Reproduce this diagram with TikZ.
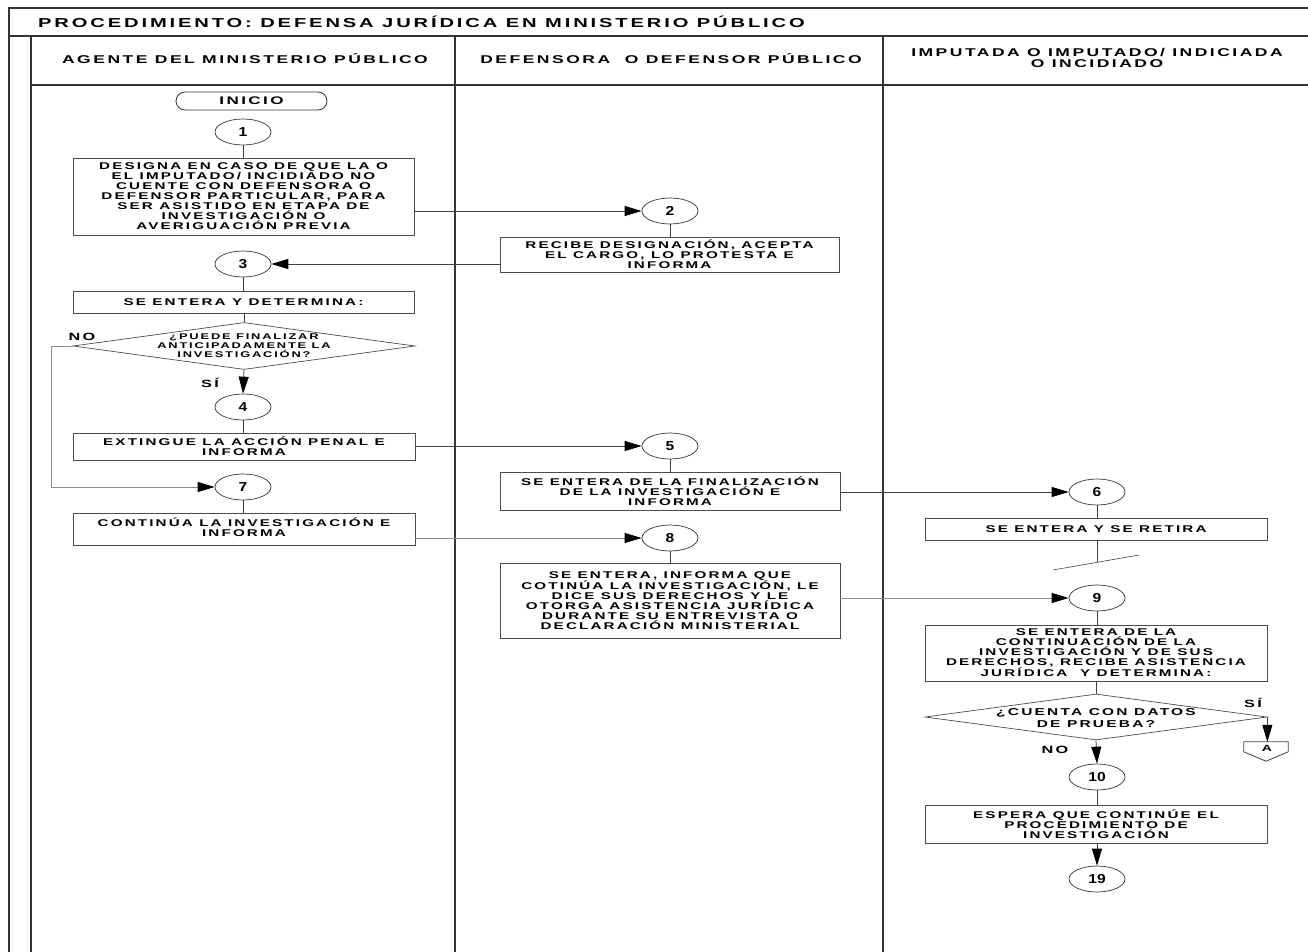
\documentclass[tikz,border=0pt]{standalone}
\usepackage{fontspec}
\newfontfamily\dgfont{Liberation Sans}[FakeStretch=1.55,LetterSpace=22]
\newfontfamily\numfont{Liberation Sans}[FakeStretch=1.2]
\usetikzlibrary{shapes.geometric,arrows.meta,calc}
\begin{document}
\begin{tikzpicture}[x=1pt,y=-1pt,
  frame/.style={draw=black!80,line width=1.1pt},
  box/.style={draw=black!70,line width=0.8pt,fill=white,inner sep=1pt,align=center,font=\dgfont\bfseries\fontsize{9.8}{10}\selectfont},
  circ/.style={ellipse,draw=black!80,line width=0.7pt,minimum width=56pt,minimum height=26pt,inner sep=0pt,font=\numfont\bfseries\fontsize{13}{13}\selectfont},
  dec/.style={diamond,draw=black!70,line width=0.7pt,inner sep=0pt},
  dtext/.style={align=center,inner sep=0pt},
  ln/.style={draw=black!75,line width=0.8pt},
  arr/.style={ln,-{Triangle[length=17pt,width=10pt,color=black]}},
  arrg/.style={draw=black!45,line width=0.9pt,-{Triangle[length=17pt,width=10pt,color=black]}},
  lbl/.style={font=\dgfont\bfseries\fontsize{10.5}{10.5}\selectfont,inner sep=0pt},
  hdr/.style={font=\dgfont\bfseries\fontsize{11.3}{11.5}\selectfont,align=center,inner sep=0pt},
]
\useasboundingbox (0,0) rectangle (1308,952);
% frame
\draw[frame] (8,8) -- (1308,8);
\draw[frame] (9,8) -- (9,952);
\draw[frame] (8,36) -- (1308,36);
\draw[frame] (31,36) -- (31,952);
\draw[frame] (31,85) -- (1308,85);
\draw[frame] (455,36) -- (455,952);
\draw[frame] (883,36) -- (883,952);
\node[anchor=west,inner sep=0pt,font=\dgfont\bfseries\fontsize{13}{13}\selectfont] (title) at (38,22) {PROCEDIMIENTO: DEFENSA JURÍDICA EN MINISTERIO PÚBLICO};
\node[hdr] (h1) at (245,59) {AGENTE DEL MINISTERIO PÚBLICO};
\node[hdr] (h2) at (671,59) {DEFENSORA\ \ O DEFENSOR PÚBLICO};
\node[hdr] (h3) at (1097,58) {IMPUTADA O IMPUTADO/ INDICIADA\\O INCIDIADO};
% start
\node[draw=black!80,line width=0.8pt,rounded corners=9pt,minimum width=151,minimum height=18,inner sep=0pt,font=\dgfont\bfseries\fontsize{11}{11}\selectfont] (ini) at (251.5,101) {INICIO};
% circles
\node[circ] (c1) at (243,132) {1};
\node[circ] (c2) at (670,211) {2};
\node[circ] (c3) at (243,264) {3};
\node[circ] (c4) at (243,407) {4};
\node[circ] (c5) at (670,446) {5};
\node[circ] (c6) at (1097,492) {6};
\node[circ] (c7) at (243,487) {7};
\node[circ] (c8) at (670,538) {8};
\node[circ] (c9) at (1097,598) {9};
\node[circ] (c10) at (1097,777) {10};
\node[circ] (c19) at (1097,879) {19};
% boxes
\node[box,minimum width=341,minimum height=77] (b1) at (243.5,196.5) {DESIGNA EN CASO DE QUE LA O\\EL IMPUTADO/ INCIDIADO NO\\CUENTE CON DEFENSORA O\\DEFENSOR PARTICULAR, PARA\\SER ASISTIDO EN ETAPA DE\\INVESTIGACIÓN O\\AVERIGUACIÓN PREVIA};
\node[box,minimum width=339,minimum height=35] (b2) at (669.5,254.5) {RECIBE DESIGNACIÓN, ACEPTA\\EL CARGO, LO PROTESTA E\\INFORMA};
\node[box,minimum width=341,minimum height=22] (b3) at (243.5,302) {SE ENTERA Y DETERMINA:};
\node[box,minimum width=342,minimum height=27] (b4) at (244,446.5) {EXTINGUE LA ACCIÓN PENAL E\\INFORMA};
\node[box,minimum width=342,minimum height=32,text depth=4pt] (b7) at (244,529) {CONTINÚA LA INVESTIGACIÓN E\\INFORMA};
\node[box,minimum width=340,minimum height=38] (b5) at (670,491) {SE ENTERA DE LA FINALIZACIÓN\\DE LA INVESTIGACIÓN E\\INFORMA};
\node[box,minimum width=340,minimum height=75] (b8) at (670,600.5) {SE ENTERA, INFORMA QUE\\COTINÚA LA INVESTIGACIÓN, LE\\DICE SUS DERECHOS Y LE\\OTORGA ASISTENCIA JURÍDICA\\DURANTE SU ENTREVISTA O\\DECLARACIÓN MINISTERIAL};
\node[box,minimum width=342,minimum height=22] (b6) at (1096,529) {SE ENTERA Y SE RETIRA};
\node[box,minimum width=342,minimum height=56] (b9) at (1096,653) {SE ENTERA DE LA\\CONTINUACIÓN DE LA\\INVESTIGACIÓN Y DE SUS\\DERECHOS, RECIBE ASISTENCIA\\JURÍDICA\ \ Y DETERMINA:};
\node[box,minimum width=342,minimum height=38] (b10) at (1096,824) {ESPERA QUE CONTINÚE EL\\PROCEDIMIENTO DE\\INVESTIGACIÓN};
% decisions
\node[dec,minimum width=342,minimum height=47] (d1) at (244,346) {};
\node[dtext,font=\dgfont\bfseries\fontsize{8.3}{9}\selectfont] (d1t) at (d1) {¿PUEDE FINALIZAR\\ANTICIPADAMENTE LA\\INVESTIGACIÓN?};
\node[dec,minimum width=342,minimum height=46] (d2) at (1096,717) {};
\node[dtext,font=\dgfont\bfseries\fontsize{10}{11.5}\selectfont] (d2t) at (1096,718) {¿CUENTA CON DATOS\\DE PRUEBA?};
% off-page connector
\node[minimum width=44,minimum height=19,inner sep=0pt] (A) at (1266,751.5) {};
\draw[ln] (A.north west) -- (A.north east) -- ($(A.north east)+(0,10)$) -- (A.south) -- ($(A.north west)+(0,10)$) -- cycle;
\node[lbl,font=\dgfont\bfseries\fontsize{9}{9}\selectfont] (At) at (1267,748.5) {A};
% labels
\node[lbl] (no1) at (82,337) {NO};
\node[lbl] (si1) at (210,383) {SÍ};
\node[lbl] (si2) at (1253,703) {SÍ};
\node[lbl] (no2) at (1055,750) {NO};
% connectors
\draw[ln] (c1.south) -- (c1.south |- b1.north);
\draw[arr] (b1.east |- c2) -- (c2.west);
\draw[ln] (c2.south) -- (c2.south |- b2.north);
\draw[arr] (b2.west |- c3) -- (c3.east);
\draw[ln] (c3.south) -- (c3.south |- b3.north);
\draw[ln] (b3.south -| d1.north) -- (d1.north);
\draw[arr] (d1.south) -- (c4.north);
\draw[arrg] (d1.west) -- ++(-21,0) |- (c7.west);
\draw[ln] (c4.south) -- (c4.south |- b4.north);
\draw[arr] (b4.east |- c5) -- (c5.west);
\draw[ln] (c5.south) -- (c5.south |- b5.north);
\draw[arr] (b5.east |- c6) -- (c6.west);
\draw[ln] (c6.south) -- (c6.south |- b6.north);
\coordinate (brk) at (1097,562);
\draw[ln] (c6.south |- b6.south) -- (brk);
\draw[ln,line width=0.6pt] ($(brk)+(-44,8)$) -- ($(brk)+(42,-7)$);
\draw[ln] (c7.south) -- (c7.south |- b7.north);
\draw[arrg] (b7.east |- c8) -- (c8.west);
\draw[ln] (c8.south) -- (c8.south |- b8.north);
\draw[arrg] (b8.east |- c9) -- (c9.west);
\draw[ln] (c9.south) -- (c9.south |- b9.north);
\draw[ln] (b9.south) -- (d2.north);
\draw[arr] (d2.east) -- (d2.east |- A.north);
\draw[arr] (d2.south) -- (c10.north);
\draw[ln] (c10.south) -- (c10.south |- b10.north);
\draw[arr] (b10.south -| c19.north) -- (c19.north);
\end{tikzpicture}
\end{document}
